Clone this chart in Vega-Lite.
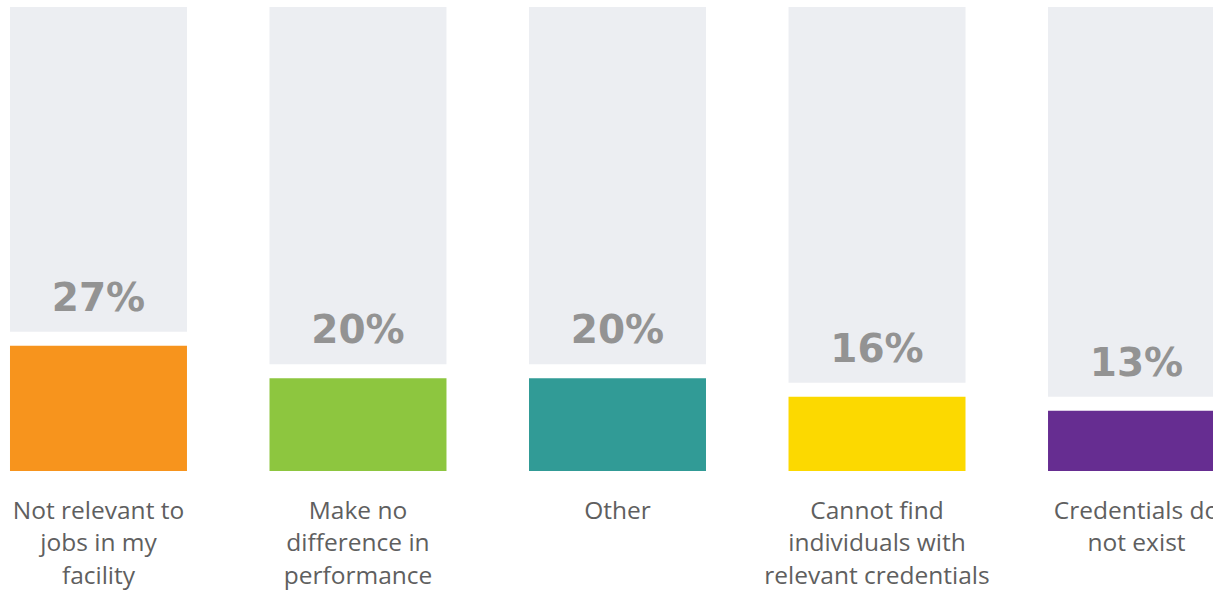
{
  "$schema": "https://vega.github.io/schema/vega-lite/v6.json",
  "autosize": {"type": "none"},
  "padding": {"top": 7, "left": 0, "right": 0, "bottom": 119},
  "width": 1235,
  "height": 464,
  "background": "white",
  "config": {"view": {"stroke": null}},
  "data": {
    "values": [
      {"reason": "Not relevant to\njobs in my\nfacility", "pct": 27, "label": "27%"},
      {"reason": "Make no\ndifference in\nperformance", "pct": 20, "label": "20%"},
      {"reason": "Other", "pct": 20, "label": "20%"},
      {"reason": "Cannot find\nindividuals with\nrelevant credentials", "pct": 16, "label": "16%"},
      {"reason": "Credentials do\nnot exist", "pct": 13, "label": "13%"}
    ]
  },
  "encoding": {
    "x": {
      "field": "reason", "type": "nominal", "sort": null,
      "scale": {"paddingInner": 0.318, "paddingOuter": 0.0385},
      "axis": {
        "title": null, "domain": false, "ticks": false, "labelAngle": 0,
        "labelExpr": "split(datum.label, '\\n')",
        "labelFont": "Open Sans", "labelFontSize": 24.5, "labelColor": "#5f5f5f",
        "labelLineHeight": 32.5, "labelPadding": 28, "labelBaseline": "top", "labelLimit": 400
      }
    }
  },
  "layer": [
    {
      "mark": {"type": "bar", "color": "#ECEEF2", "yOffset": -14},
      "encoding": {
        "y": {"field": "pct", "type": "quantitative", "scale": {"domain": [0, 100], "nice": false, "zero": true}, "axis": null},
        "y2": {"datum": 100}
      }
    },
    {
      "mark": {"type": "bar"},
      "encoding": {
        "y": {"field": "pct", "type": "quantitative", "axis": null},
        "color": {
          "field": "reason", "type": "nominal", "sort": null, "legend": null,
          "scale": {"range": ["#F7941D", "#8DC63F", "#319B96", "#FCD900", "#662D91"]}
        }
      }
    },
    {
      "mark": {"type": "text", "font": "DejaVu Sans", "fontWeight": "bold", "fontSize": 39, "color": "#939393", "baseline": "alphabetic", "dy": -35},
      "encoding": {
        "y": {"field": "pct", "type": "quantitative", "axis": null},
        "text": {"field": "label"}
      }
    }
  ]
}
